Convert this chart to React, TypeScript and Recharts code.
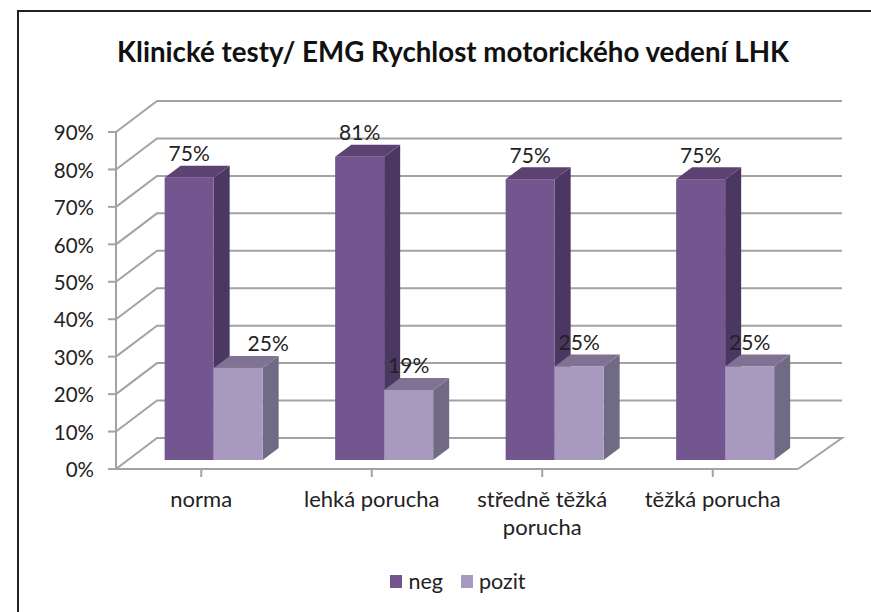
import React from "react";
import { BarChart, Bar, XAxis, YAxis, CartesianGrid, Legend, LabelList } from "recharts";

const categories = ["norma", "lehká porucha", "středně těžká porucha", "těžká porucha"];
const negValues = [75.4, 81, 75, 75];
const pozitValues = [24.6, 18.7, 25, 25];
const yTicks = [0, 10, 20, 30, 40, 50, 60, 70, 80, 90];

const data = categories.map((name, i) => ({ name, neg: negValues[i], pozit: pozitValues[i] }));

const FONT = "Lato, 'Open Sans', sans-serif";
const GRID = "#a3a3a3";
const TEXT = "#222222";
const NEG = { front: "#73568f", top: "#5b4272", side: "#4b3761" };
const POZIT = { front: "#a899bf", top: "#7f7293", side: "#706a85" };

const SHIFT_X = 12;
const SHIFT_Y = -9;
const DEPTH_X = 16;
const DEPTH_Y = -12;

function Box3D(props: any) {
  const { x, y, width, height, colors } = props;
  const l = x + SHIFT_X;
  const r = l + width;
  const t = y + SHIFT_Y;
  const b = t + height;
  return (
    <g>
      <polygon points={`${r},${t} ${r + DEPTH_X},${t + DEPTH_Y} ${r + DEPTH_X},${b + DEPTH_Y} ${r},${b}`} fill={colors.side} />
      <polygon points={`${l},${t} ${l + DEPTH_X},${t + DEPTH_Y} ${r + DEPTH_X},${t + DEPTH_Y} ${r},${t}`} fill={colors.top} />
      <rect x={l} y={t} width={width} height={height} fill={colors.front} />
    </g>
  );
}

function gridLine(props: any) {
  const { x1, x2, y1, index } = props;
  const backL = x1 + 41;
  const backR = x2 + 44;
  const by = y1 - 31;
  const isFloor = Math.abs(y1 - 469) < 1;
  const d = `M${x1},${y1} L${backL},${by} L${backR},${by}` + (isFloor ? ` L${x2},${y1}` : "");
  return <path key={`g-${index}-${y1}`} d={d} fill="none" stroke={GRID} strokeWidth={2} />;
}

function wrapWords(label: string, maxChars: number) {
  const lines: string[] = [];
  let cur = "";
  for (const w of label.split(" ")) {
    const next = cur ? `${cur} ${w}` : w;
    if (next.length > maxChars && cur) {
      lines.push(cur);
      cur = w;
    } else {
      cur = next;
    }
  }
  if (cur) lines.push(cur);
  return lines;
}

function CategoryTick(props: any) {
  const { x, y, payload } = props;
  return (
    <text x={x} y={y + 28} textAnchor="middle" fontFamily={FONT} fontSize={22} fill={TEXT}>
      {wrapWords(payload.value, 14).map((line, i) => (
        <tspan key={line} x={x} dy={i === 0 ? 0 : 28}>
          {line}
        </tspan>
      ))}
    </text>
  );
}

function makeLabel(isPozit: boolean) {
  return function BarLabel(props: any) {
    const { x, y, width, value, index } = props;
    const extra = isPozit && index === 0 ? 30 : 0;
    return (
      <text
        x={x + SHIFT_X + width / 2 + extra}
        y={y + SHIFT_Y - 25}
        textAnchor="middle"
        dominantBaseline="central"
        fontFamily={FONT}
        fontSize={21}
        fill={TEXT}
      >
        {Math.round(value)}%
      </text>
    );
  };
}

function LegendContent(props: any) {
  const items = props.payload || [];
  return (
    <div style={{ display: "flex", justifyContent: "center", fontFamily: FONT, fontSize: 21.5, color: TEXT, lineHeight: "24px" }}>
      {items.map((it: any) => (
        <span key={it.value} style={{ display: "inline-flex", alignItems: "center", marginRight: 18 }}>
          <span style={{ width: 12, height: 13, background: it.color, marginRight: 6 }} />
          {it.value}
        </span>
      ))}
    </div>
  );
}

export default function App() {
  return (
    <div style={{ position: "absolute", left: 0, top: 0, width: 871, height: 612, overflow: "hidden", background: "#fff" }}>
      <div
        style={{
          position: "absolute", left: 0, top: 32, width: 906, textAlign: "center",
          fontFamily: FONT, fontSize: 27.7, fontWeight: 700, color: "#111", lineHeight: "40px", whiteSpace: "nowrap",
        }}
      >
        Klinické testy/ EMG Rychlost motorického vedení LHK
      </div>
      <BarChart
        width={871}
        height={612}
        data={data}
        margin={{ top: 132, right: 73, bottom: 0, left: 56 }}
        barCategoryGap="21.5%"
        barGap={0}
        style={{ position: "absolute", left: 0, top: 0 }}
      >
        <CartesianGrid vertical={false} horizontal={gridLine} />
        <XAxis
          dataKey="name"
          height={143}
          interval={0}
          tickSize={8}
          axisLine={{ stroke: GRID, strokeWidth: 2 }}
          tickLine={{ stroke: GRID, strokeWidth: 2 }}
          tick={<CategoryTick />}
        />
        <YAxis
          width={60}
          domain={[0, 90]}
          ticks={yTicks}
          tickFormatter={(v: number) => `${v}%`}
          tickSize={8}
          tickMargin={14}
          axisLine={{ stroke: GRID, strokeWidth: 2 }}
          tickLine={{ stroke: GRID, strokeWidth: 2 }}
          tick={{ fontFamily: FONT, fontSize: 20.5, fill: TEXT, dy: 1 }}
        />
        <Legend
          content={<LegendContent />}
          wrapperStyle={{ position: "absolute", left: 0, top: 569, width: 934, height: 0 }}
          height={0}
        />
        <Bar dataKey="neg" fill={NEG.front} isAnimationActive={false} shape={(p: any) => <Box3D {...p} colors={NEG} />}>
          <LabelList dataKey="neg" content={makeLabel(false)} />
        </Bar>
        <Bar dataKey="pozit" fill={POZIT.front} isAnimationActive={false} shape={(p: any) => <Box3D {...p} colors={POZIT} />}>
          <LabelList dataKey="pozit" content={makeLabel(true)} />
        </Bar>
      </BarChart>
      <div style={{ position: "absolute", left: 17, top: 10, right: 0, bottom: 0, borderLeft: "2px solid #222", borderTop: "2px solid #222", pointerEvents: "none" }} />
    </div>
  );
}
